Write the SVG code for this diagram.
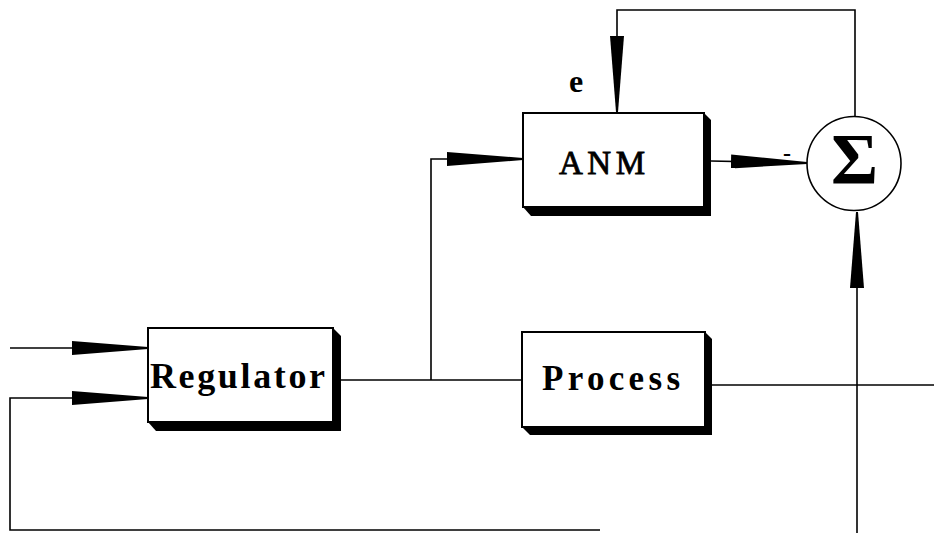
<svg xmlns="http://www.w3.org/2000/svg" width="934" height="533" viewBox="0 0 934 533">
  <style>
    .box { fill: #fff; stroke: #000; stroke-width: 2; }
    .shadow { fill: #000; }
    .conn { fill: none; stroke: #000; stroke-width: 1.6; }
    .lbl { font-family: "Liberation Serif", "Times New Roman", serif; fill: #000; }
  </style>
  <defs>
    <marker id="arr" viewBox="0 0 76 14" refX="76" refY="7" markerWidth="76" markerHeight="14" markerUnits="userSpaceOnUse" orient="auto">
      <path d="M0,0 L76,6 L76,8 L0,14 Z" fill="#000"/>
    </marker>
  </defs>
  <rect width="934" height="533" fill="#fff"/>

  <g id="connectors">
    <path class="conn" d="M10,348 H148" marker-end="url(#arr)"/>
    <path class="conn" d="M600,530 H10 V398 H148" marker-end="url(#arr)"/>
    <path class="conn" d="M340,380 H522"/>
    <path class="conn" d="M431,380 V159 H523" marker-end="url(#arr)"/>
    <path class="conn" d="M711,161 L807,163" marker-end="url(#arr)"/>
    <path class="conn" d="M855,116 V10 H617 V112" marker-end="url(#arr)"/>
    <path class="conn" d="M712,385 H934"/>
    <path class="conn" d="M857,533 V212" marker-end="url(#arr)"/>
  </g>

  <g id="regulator">
    <polygon class="shadow" points="333,328 341,336 341,431 156,431 148,422"/>
    <rect class="box" x="148" y="328" width="185" height="94"/>
    <text class="lbl" x="150" y="388" font-size="36" font-weight="bold" textLength="175" lengthAdjust="spacing">Regulator</text>
  </g>

  <g id="anm">
    <polygon class="shadow" points="704,113 711,120 711,216 531,216 523,207"/>
    <rect class="box" x="523" y="113" width="181" height="94"/>
    <text class="lbl" x="559" y="174" font-size="33" stroke="#000" stroke-width="0.8" textLength="86" lengthAdjust="spacing">ANM</text>
  </g>

  <g id="process">
    <polygon class="shadow" points="705,332 712,339 712,435 530,435 522,427"/>
    <rect class="box" x="522" y="332" width="183" height="95"/>
    <text class="lbl" x="542" y="390" font-size="35" font-weight="bold" textLength="138" lengthAdjust="spacing">Process</text>
  </g>

  <g id="sum">
    <circle cx="854" cy="163.5" r="47" fill="#fff" stroke="#000" stroke-width="1.6"/>
    <text class="lbl" x="854.5" y="183" font-size="72" font-weight="bold" text-anchor="middle">Σ</text>
  </g>

  <g id="labels">
    <text class="lbl" x="569" y="92" font-size="32" font-weight="bold">e</text>
    <text class="lbl" x="783" y="161" font-size="24" font-weight="bold">-</text>
  </g>
</svg>
